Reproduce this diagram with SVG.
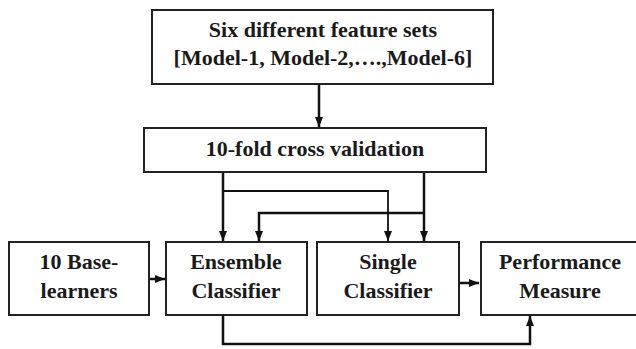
<svg xmlns="http://www.w3.org/2000/svg" width="636" height="349" viewBox="0 0 636 349">
<style>
.box{fill:#fff;stroke:#222;stroke-width:2}
.t{font-family:"Liberation Serif","Times New Roman",serif;font-weight:bold;font-size:22px;fill:#1a1a1a;text-anchor:middle}
.c{fill:none;stroke:#111;stroke-width:2.5}
.thin{stroke-width:1.8}
</style>
<defs>
<marker id="ah" markerWidth="10" markerHeight="10" viewBox="0 0 10 10" refX="10" refY="5" orient="auto" markerUnits="userSpaceOnUse">
<path d="M0,1 L10,5 L0,9 z" fill="#111"/>
</marker>
</defs>
<rect width="636" height="349" fill="#fff"/>
<g id="connectors">
<path class="c" d="M319,84 V127" marker-end="url(#ah)"/>
<path class="c" d="M223,172 V241" marker-end="url(#ah)"/>
<path class="c thin" d="M223,191 H388 V241" marker-end="url(#ah)"/>
<path class="c" d="M424,172 V241" marker-end="url(#ah)"/>
<path class="c" d="M424,213 H259 V241" marker-end="url(#ah)"/>
<path class="c" d="M149,279 H165" marker-end="url(#ah)"/>
<path class="c" d="M460,283 H479" marker-end="url(#ah)"/>
<path class="c" d="M223,315 V344 H530 V316" marker-end="url(#ah)"/>
</g>
<g id="feature-sets">
<rect class="box" x="152" y="10" width="341" height="74"/>
<text class="t" x="323" y="37">Six different feature sets</text>
<text class="t" x="323" y="65">[Model-1, Model-2,….,Model-6]</text>
</g>
<g id="cross-validation">
<rect class="box" x="144" y="128" width="342" height="44"/>
<text class="t" x="315" y="156">10-fold cross validation</text>
</g>
<g id="base-learners">
<rect class="box" x="9" y="242" width="140" height="73"/>
<text class="t" x="79" y="269">10 Base-</text>
<text class="t" x="79" y="298">learners</text>
</g>
<g id="ensemble">
<rect class="box" x="166" y="242" width="141" height="73"/>
<text class="t" x="236" y="269">Ensemble</text>
<text class="t" x="236" y="298">Classifier</text>
</g>
<g id="single">
<rect class="box" x="317" y="242" width="142" height="73"/>
<text class="t" x="388" y="269">Single</text>
<text class="t" x="388" y="298">Classifier</text>
</g>
<g id="performance">
<rect class="box" x="481" y="242" width="160" height="73"/>
<text class="t" x="560" y="269">Performance</text>
<text class="t" x="560" y="298">Measure</text>
</g>
</svg>
